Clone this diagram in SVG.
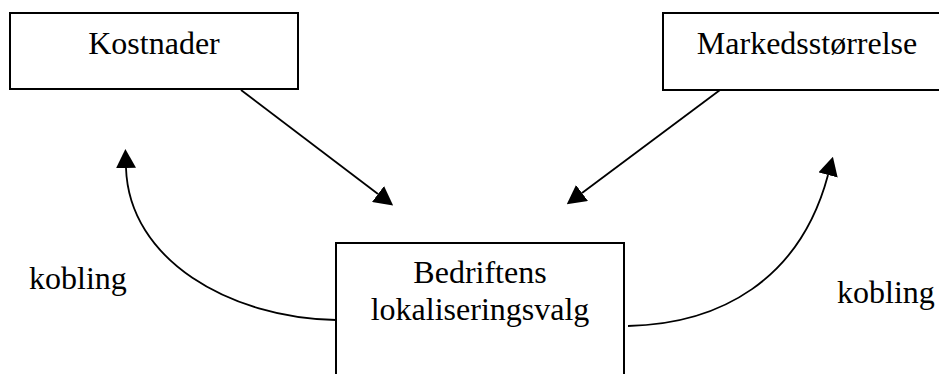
<svg xmlns="http://www.w3.org/2000/svg" width="939" height="374" viewBox="0 0 939 374">
<style>
.box{fill:#fff;stroke:#000;stroke-width:2}
.t{font-family:"Liberation Serif","Times New Roman",serif;font-size:32px;fill:#000}
.c{fill:none;stroke:#000;stroke-width:1.8}
</style>
<defs>
<marker id="ah" viewBox="0 0 19 20" refX="0" refY="10" markerWidth="19" markerHeight="20" markerUnits="userSpaceOnUse" orient="auto">
<path d="M0,0 L19,10 L0,20 z" fill="#000"/>
</marker>
</defs>
<rect width="939" height="374" fill="#fff"/>
<g id="connectors">
<path class="c" d="M241,90 L378,194" marker-end="url(#ah)"/>
<path class="c" d="M720,90 L582,193" marker-end="url(#ah)"/>
<path class="c" d="M336,320 C230,318 129,260 126,168" marker-end="url(#ah)"/>
<path class="c" d="M628,326 C720,324 800,280 828,175" marker-end="url(#ah)"/>
</g>
<g id="kostnader">
<rect class="box" x="10" y="13" width="288" height="76"/>
<text class="t" x="154" y="54" text-anchor="middle">Kostnader</text>
</g>
<g id="markedsstorrelse">
<rect class="box" x="663" y="13" width="290" height="77"/>
<text class="t" x="807" y="54" text-anchor="middle">Markedsstørrelse</text>
</g>
<g id="bedriftens">
<rect class="box" x="336" y="243" width="288" height="140"/>
<text class="t" x="480" y="283" text-anchor="middle">Bedriftens</text>
<text class="t" x="480" y="320" text-anchor="middle">lokaliseringsvalg</text>
</g>
<g id="label-left">
<text class="t" x="29" y="289">kobling</text>
</g>
<g id="label-right">
<text class="t" x="837" y="303">kobling</text>
</g>
</svg>
